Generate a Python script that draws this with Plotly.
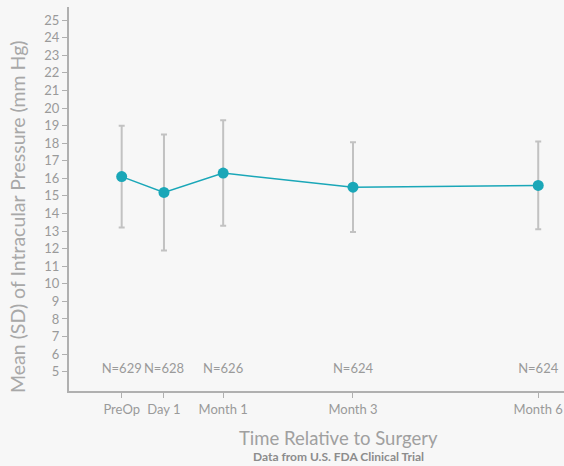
import plotly.graph_objects as go

# Visit timepoints and their spacing along the time axis
visits = ["PreOp", "Day 1", "Month 1", "Month 3", "Month 6"]
visit_pos = [0.0, 1.0, 2.4, 5.47, 9.85]

# Mean and standard deviation of intraocular pressure (mm Hg)
iop_mean = [16.1, 15.2, 16.3, 15.5, 15.6]
iop_sd = [2.9, 3.3, 3.0, 2.55, 2.5]

# Patients measured at each visit
n_patients = [629, 628, 626, 624, 624]
n_label_y = 5.1

teal = "#1aa7b8"
grey_axis = "#b0b0b0"
grey_text = "#a2a2a2"
font_family = "Lato, 'Open Sans', sans-serif"

W, H = 564, 466
ML, MR, MT, MB = 69, 0, 7, 75
plot_w = W - ML - MR
plot_h = H - MT - MB


def paper_x(px):
    return (px - ML) / plot_w


def paper_y(py):
    return (H - MB - py) / plot_h


fig = go.Figure()

fig.add_trace(go.Scatter(
    x=visit_pos,
    y=iop_mean,
    mode="lines+markers",
    line=dict(color=teal, width=1.5),
    marker=dict(color=teal, size=11),
    error_y=dict(type="data", array=iop_sd, visible=True,
                 color="#c2c2c2", thickness=2, width=3),
    showlegend=False,
    hoverinfo="skip",
))

fig.add_trace(go.Scatter(
    x=visit_pos,
    y=[n_label_y] * len(visit_pos),
    mode="text",
    text=[f"N={n}" for n in n_patients],
    textposition="middle center",
    textfont=dict(family=font_family, size=13, color="#9a9a9a"),
    showlegend=False,
    hoverinfo="skip",
))

fig.update_layout(
    width=W,
    height=H,
    margin=dict(l=ML, r=MR, t=MT, b=MB),
    paper_bgcolor="#f7f7f7",
    plot_bgcolor="#f7f7f7",
    font=dict(family=font_family, color=grey_text),
    xaxis=dict(
        range=[-1.246, 10.46],
        tickvals=visit_pos,
        ticktext=visits,
        showgrid=False,
        zeroline=False,
        showline=True,
        linecolor=grey_axis,
        linewidth=2,
        ticks="outside",
        ticklen=5,
        tickcolor=grey_axis,
        tickfont=dict(size=13, color="#9a9a9a"),
    ),
    yaxis=dict(
        range=[3.9, 25.75],
        tickvals=list(range(5, 26)),
        showgrid=False,
        zeroline=False,
        showline=True,
        linecolor=grey_axis,
        linewidth=2,
        ticks="outside",
        ticklen=5,
        tickcolor=grey_axis,
        tickfont=dict(size=13, color="#9a9a9a"),
    ),
    annotations=[
        dict(text="Mean (SD) of Intracular Pressure (mm Hg)",
             x=paper_x(17), y=paper_y(217), textangle=-90,
             xref="paper", yref="paper", showarrow=False,
             xanchor="center", yanchor="middle",
             font=dict(size=19.5, color="#a8a8a8")),
        dict(text="Time Relative to Surgery",
             x=paper_x(338), y=paper_y(438),
             xref="paper", yref="paper", showarrow=False,
             xanchor="center", yanchor="middle",
             font=dict(size=18.5, color="#a0a0a0")),
        dict(text="<b>Data from U.S. FDA Clinical Trial</b>",
             x=paper_x(338), y=paper_y(456.5),
             xref="paper", yref="paper", showarrow=False,
             xanchor="center", yanchor="middle",
             font=dict(size=12, color="#8c8c8c")),
    ],
)

fig.write_html("out.html")
